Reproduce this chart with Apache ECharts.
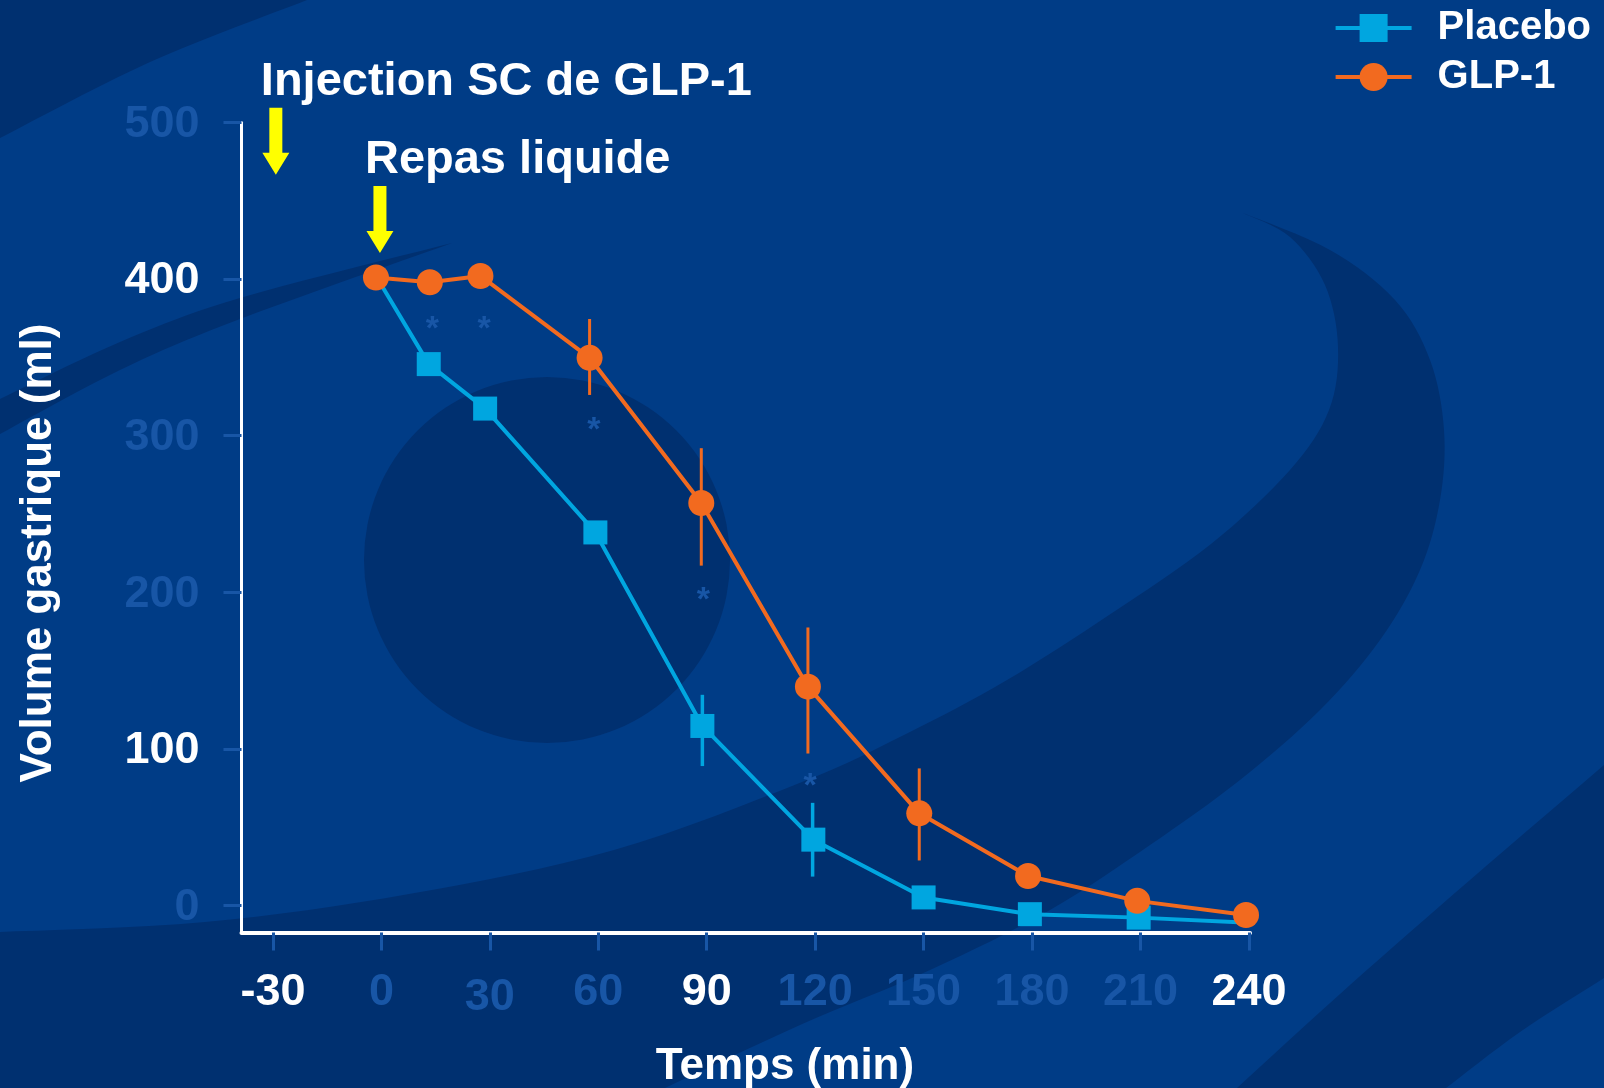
<!DOCTYPE html>
<html><head><meta charset="utf-8">
<script src="https://cdn.jsdelivr.net/npm/echarts@6/dist/echarts.min.js"></script>
<style>html,body{margin:0;padding:0;background:#003c86;} #chart{width:1604px;height:1088px;}</style>
</head><body><div id="chart"></div>
<script>
// ---- data ----
const timeTicks = [-30, 0, 30, 60, 90, 120, 150, 180, 210, 240];
const volumeTicks = [0, 100, 200, 300, 400, 500];
const whiteXLabels = [-30, 90, 240];
const whiteYLabels = [100, 400];
const seriesNames = ['Placebo', 'GLP-1'];
const placebo = [[-1, 400], [13.1, 345.7], [28.7, 317.3], [59.2, 238.2], [88.8, 114.6], [119.5, 42], [150, 5.1], [179.4, -5.6], [209.5, -7.8], [240, -11]];
const placeboHiddenMarkers = [0, 9];
const glp1 = [[-1.5, 401], [13.4, 398], [27.4, 402], [57.6, 349.7], [88.5, 257], [118, 139.7], [148.8, 58.8], [178.9, 18.8], [209.1, 2.9], [239.2, -6.1]];
const glp1ErrorBars = [[57.6, 326, 374.5], [88.5, 217, 292], [118, 97, 177.5], [148.8, 28.7, 87.5]];
const placeboErrorBars = [[88.8, 89, 134.5], [119.3, 18.4, 65.5]];
const significance = [[14.1, 372], [28.4, 372.5], [58.8, 308], [89.1, 199], [118.6, 80.5]];
const eventArrows = [[-29.2, 509.4, 466.6], [-0.4, 459.5, 416.7]];
const eventLabels = ['Injection SC de GLP-1', 'Repas liquide'];
const xAxisTitle = 'Temps (min)';
const yAxisTitle = 'Volume gastrique (ml)';

// ---- style ----
const FONT = '"Liberation Sans", Arial, Helvetica, sans-serif';
const BG = '#003c86', DARK = '#003070', FAINT = '#1856a6';
const C_PLACEBO = '#00a6e0', C_GLP = '#f26a1f';

// background decoration helpers (Catmull-Rom sampling)
function sampleCurve(pts, steps) {
  const out = [];
  for (let i = 0; i < pts.length - 1; i++) {
    const p0 = pts[i - 1] || pts[i], p1 = pts[i], p2 = pts[i + 1], p3 = pts[i + 2] || p2;
    for (let s = 0; s < steps; s++) {
      const t = s / steps, t2 = t * t, t3 = t2 * t;
      const f = k => 0.5 * ((2 * p1[k]) + (-p0[k] + p2[k]) * t + (2 * p0[k] - 5 * p1[k] + 4 * p2[k] - p3[k]) * t2 + (-p0[k] + 3 * p1[k] - 3 * p2[k] + p3[k]) * t3);
      out.push([f(0), f(1)]);
    }
  }
  out.push(pts[pts.length - 1]);
  return out;
}
const outerEdge = [[1243,213],[1330,250],[1395,300],[1430,360],[1444,430],[1440,500],[1420,570],[1380,640],[1320,710],[1240,780],[1150,845],[1050,910],[930,970],[800,1025],[665,1088]];
const innerEdge = [[0,932],[205,922],[409,894],[614,850],[802,782],[904,735],[1007,680],[1109,615],[1211,544],[1290,470],[1329,410],[1338,347],[1325,285],[1290,237],[1243,213]];
const crescentPoly = sampleCurve(outerEdge, 8).concat([[0,1088]], sampleCurve(innerEdge, 8));
const band2Poly = sampleCurve([[1237,1088],[1350,985],[1470,880],[1604,765]], 8).concat(sampleCurve([[1604,978],[1520,1032],[1446,1088]], 8));
const swooshPoly = sampleCurve([[0,399],[120,342],[240,298],[452,243]], 10).concat(sampleCurve([[452,243],[240,319],[120,370],[0,434]], 10));
const cornerPoly = [[0,0],[307,0]].concat(sampleCurve([[307,0],[150,62],[0,138]], 10));

const chart = echarts.init(document.getElementById('chart'), null, {renderer: 'canvas'});
const tickFont = {fontSize: 45, fontWeight: 'bold', fontFamily: FONT};
const xRich = {
  w: Object.assign({color: '#ffffff'}, tickFont),
  f: Object.assign({color: FAINT}, tickFont),
  f2: Object.assign({color: FAINT, padding: [5, 0, 0, 0]}, tickFont)
};
const yRich = {
  w: Object.assign({color: '#ffffff', padding: [4, 0, 0, 0]}, tickFont),
  f: Object.assign({color: FAINT, padding: [4, 0, 0, 0]}, tickFont)
};
const bgEl = pts => ({type: 'polygon', z: -10, silent: true, shape: {points: pts}, style: {fill: DARK}});

const option = {
  backgroundColor: BG,
  animation: false,
  grid: {left: 241.5, right: 354, top: 122.5, bottom: 155.5, containLabel: false, outerBoundsMode: 'none'},
  legend: {
    data: seriesNames, orient: 'vertical', right: 13, top: 8, padding: 0,
    itemWidth: 76, itemHeight: 35, itemGap: 9,
    lineStyle: {width: 4},
    textStyle: {color: '#ffffff', fontSize: 40, fontWeight: 'bold', fontFamily: FONT, padding: [0, 0, 0, 21]}
  },
  xAxis: {
    type: 'value', min: -38.7, max: 240.3,
    axisLine: {show: true, onZero: false, lineStyle: {color: '#ffffff', width: 4}},
    axisTick: {show: true, customValues: timeTicks, length: 18, lineStyle: {color: FAINT, width: 3}},
    splitLine: {show: false},
    axisLabel: Object.assign({
      customValues: timeTicks, margin: 38,
      formatter: v => `{${whiteXLabels.includes(v) ? 'w' : (v === 30 ? 'f2' : 'f')}|${v}}`,
      rich: xRich
    }, tickFont)
  },
  yAxis: {
    type: 'value', min: -17.3, max: 500,
    axisLine: {show: true, onZero: false, lineStyle: {color: '#ffffff', width: 3}},
    axisTick: {show: true, customValues: volumeTicks, length: 18, lineStyle: {color: FAINT, width: 3}},
    splitLine: {show: false},
    axisLabel: Object.assign({
      customValues: volumeTicks, margin: 42,
      formatter: v => `{${whiteYLabels.includes(v) ? 'w' : 'f'}|${v}}`,
      rich: yRich
    }, tickFont)
  },
  graphic: [
    bgEl(cornerPoly),
    bgEl(swooshPoly),
    {type: 'circle', z: -10, silent: true, shape: {cx: 547, cy: 560, r: 183}, style: {fill: DARK}},
    bgEl(crescentPoly),
    bgEl(band2Poly),
    {type: 'text', z: 10, x: 785, y: 1067, style: {text: xAxisTitle, fill: '#ffffff', font: `bold 44px ${FONT}`, align: 'center', verticalAlign: 'middle'}},
    {type: 'text', z: 10, x: 39, y: 553, rotation: Math.PI / 2, style: {text: yAxisTitle, fill: '#ffffff', font: `bold 44px ${FONT}`, align: 'center', verticalAlign: 'middle'}}
  ],
  series: [
    {
      name: 'errPlacebo', type: 'custom', z: 2, clip: false, silent: true,
      data: placeboErrorBars,
      renderItem: (params, api) => {
        const a = api.coord([api.value(0), api.value(1)]), b = api.coord([api.value(0), api.value(2)]);
        return {type: 'line', shape: {x1: a[0], y1: a[1], x2: b[0], y2: b[1]}, style: {stroke: C_PLACEBO, lineWidth: 3.5}};
      }
    },
    {
      name: 'errGLP', type: 'custom', z: 2, clip: false, silent: true,
      data: glp1ErrorBars,
      renderItem: (params, api) => {
        const a = api.coord([api.value(0), api.value(1)]), b = api.coord([api.value(0), api.value(2)]);
        return {type: 'line', shape: {x1: a[0], y1: a[1], x2: b[0], y2: b[1]}, style: {stroke: C_GLP, lineWidth: 3}};
      }
    },
    {
      name: 'Placebo', type: 'line', z: 3, symbol: 'rect', symbolSize: 24,
      data: placebo.map((p, i) => placeboHiddenMarkers.includes(i) ? {value: p, symbol: 'none'} : p),
      lineStyle: {color: C_PLACEBO, width: 4}, itemStyle: {color: C_PLACEBO}
    },
    {
      name: 'GLP-1', type: 'line', z: 4, data: glp1, symbol: 'circle', symbolSize: 26,
      lineStyle: {color: C_GLP, width: 4}, itemStyle: {color: C_GLP}
    },
    {
      name: 'signif', type: 'custom', z: 2, clip: false, silent: true,
      data: significance,
      renderItem: (params, api) => {
        const p = api.coord([api.value(0), api.value(1)]);
        return {type: 'text', x: p[0], y: p[1] + 7, style: {text: '*', fill: FAINT, font: `bold 34px ${FONT}`, align: 'center', verticalAlign: 'middle'}};
      }
    },
    {
      name: 'events', type: 'custom', z: 5, clip: false, silent: true,
      data: eventArrows,
      renderItem: (params, api) => {
        const top = api.coord([api.value(0), api.value(1)]);
        const tip = api.coord([api.value(0), api.value(2)]);
        const x = top[0], hw = 6.5, hh = 13.5, hl = 22;
        const hy = tip[1] - hl;
        return {type: 'group', children: [
          {type: 'polygon', shape: {points: [[x - hw, top[1]], [x + hw, top[1]], [x + hw, hy], [x + hh, hy], [x, tip[1]], [x - hh, hy], [x - hw, hy]]}, style: {fill: '#ffff00'}},
          {type: 'text', x: x - 15, y: top[1] - 26, style: {text: eventLabels[params.dataIndex], fill: '#ffffff', font: `bold 47px ${FONT}`, align: 'left', verticalAlign: 'middle'}}
        ]};
      }
    }
  ]
};
chart.setOption(option);
</script></body></html>
